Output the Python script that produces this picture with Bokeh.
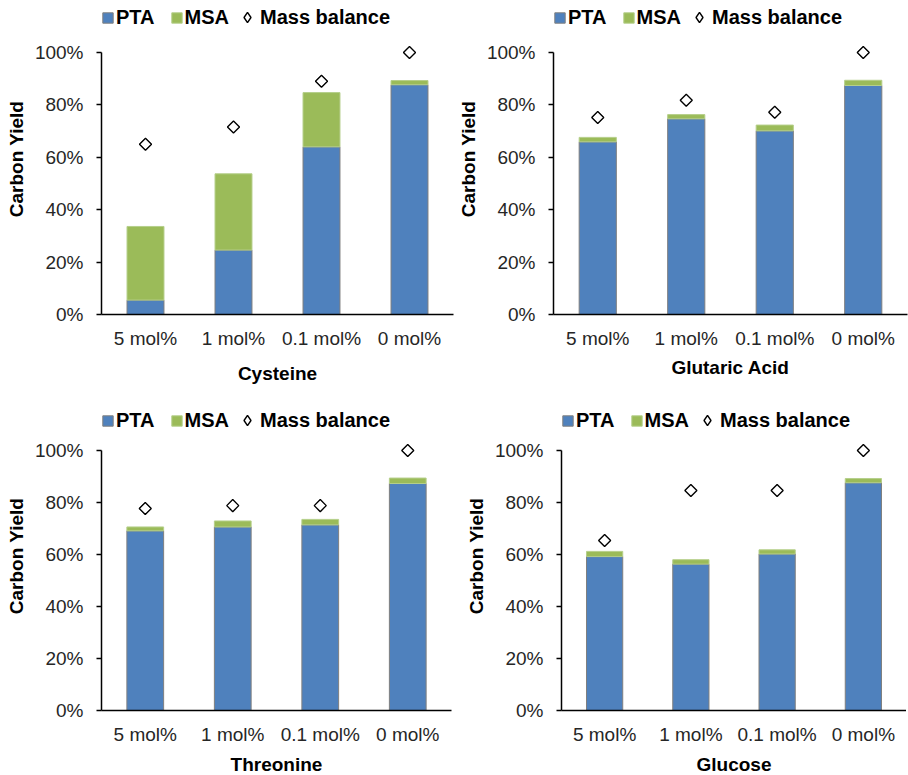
import numpy as np
from bokeh.plotting import figure
from bokeh.models import FactorRange, Range1d, FixedTicker, PrintfTickFormatter, Legend, LegendItem
from bokeh.layouts import column, row
from bokeh.embed import file_html
from bokeh.resources import INLINE

categories = ["5 mol%", "1 mol%", "0.1 mol%", "0 mol%"]
y_ticks = [0, 20, 40, 60, 80, 100]

cys_pta = [5.5, 24.6, 64.0, 87.7]
cys_msa = [28.1, 29.1, 20.7, 1.6]
cys_mb = [65.0, 71.6, 89.0, 100.0]

glu_pta = [65.9, 74.7, 70.1, 87.4]
glu_msa = [1.7, 1.6, 2.2, 2.0]
glu_mb = [75.2, 81.8, 77.2, 100.0]

thr_pta = [69.1, 70.6, 71.4, 87.3]
thr_msa = [1.5, 2.3, 2.1, 2.1]
thr_mb = [77.7, 78.8, 78.8, 100.0]

gls_pta = [59.2, 56.3, 60.2, 87.6]
gls_msa = [2.0, 1.7, 1.6, 1.6]
gls_mb = [65.4, 84.6, 84.6, 100.0]

FONT = "Liberation Sans"
PTA_COLOR = "#4F81BD"
MSA_COLOR = "#9BBB59"
GAP = 49


def panel(title, pta, msa, mb, frame_w, px100, left, right, top, bottom,
          title_standoff, leg_y):
    frame_h = px100 + GAP
    y_end = 100 + GAP * 100.0 / px100
    p = figure(x_range=FactorRange(*categories, range_padding=0),
               y_range=Range1d(0, y_end),
               frame_width=frame_w, frame_height=frame_h,
               output_backend="svg", title=None,
               toolbar_location=None, min_border_left=left,
               min_border_right=right, min_border_top=top,
               min_border_bottom=bottom)
    base = [0.0] * len(categories)
    tops = [a + b for a, b in zip(pta, msa)]
    r_pta = p.vbar(x=categories, bottom=base, top=pta, width=0.42,
                   fill_color=PTA_COLOR, line_color="#7F7F7F", line_width=1)
    r_msa = p.vbar(x=categories, bottom=pta, top=tops, width=0.42,
                   fill_color=MSA_COLOR, line_color="#B5CF8A", line_width=1)
    p.scatter(x=categories, y=mb, marker="square", angle=np.pi / 4,
              size=8.5, fill_color="white", line_color="black",
              line_width=1.4)
    # key glyph for the legend (zero-size markers on the same data)
    r_key = p.scatter(x=categories, y=mb, marker="diamond", size=0,
                      fill_color="white", line_color="black", line_width=1.4)

    common = dict(orientation="horizontal", background_fill_alpha=0,
                  border_line_alpha=0, padding=0, margin=0,
                  label_height=26, label_text_font=FONT,
                  label_text_font_size="20px", label_text_font_style="bold",
                  label_text_color="black")
    leg_a = Legend(items=[LegendItem(label="PTA", renderers=[r_pta]),
                          LegendItem(label="MSA", renderers=[r_msa])],
                   location=(0, leg_y), spacing=15, label_standoff=2,
                   glyph_width=13, glyph_height=13, **common)
    leg_b = Legend(items=[LegendItem(label="Mass balance", renderers=[r_key])],
                   location=(133, leg_y), spacing=0, label_standoff=0,
                   glyph_width=26, glyph_height=26, **common)
    p.add_layout(leg_a)
    p.add_layout(leg_b)

    p.xgrid.visible = False
    p.ygrid.visible = False
    p.outline_line_color = None

    ya = p.yaxis[0]
    ya.ticker = FixedTicker(ticks=y_ticks)
    ya.formatter = PrintfTickFormatter(format="%d%%")
    ya.bounds = (0, 100)
    ya.axis_line_color = "black"
    ya.axis_line_width = 1.5
    ya.major_tick_line_color = "black"
    ya.major_tick_line_width = 1.5
    ya.major_tick_out = 5
    ya.major_tick_in = 0
    ya.minor_tick_line_color = None
    ya.major_label_standoff = 13
    ya.major_label_text_font = FONT
    ya.major_label_text_font_size = "19px"
    ya.major_label_text_color = "#262626"
    ya.axis_label = "Carbon Yield"
    ya.axis_label_text_font = FONT
    ya.axis_label_text_font_size = "19px"
    ya.axis_label_text_font_style = "bold"
    ya.axis_label_text_color = "black"
    ya.axis_label_standoff = 5

    xa = p.xaxis[0]
    xa.axis_line_color = "black"
    xa.axis_line_width = 1.5
    xa.major_tick_line_color = None
    xa.minor_tick_line_color = None
    xa.major_tick_out = 0
    xa.major_tick_in = 0
    xa.major_label_standoff = 13
    xa.major_label_text_font = FONT
    xa.major_label_text_font_size = "19px"
    xa.major_label_text_color = "#262626"
    xa.axis_label = title
    xa.axis_label_text_font = FONT
    xa.axis_label_text_font_size = "19px"
    xa.axis_label_text_font_style = "bold"
    xa.axis_label_text_color = "black"
    xa.axis_label_standoff = title_standoff
    return p


TOP_PX = 262
BOT_PX = 260
top_leg = TOP_PX + GAP - 27
bot_leg = BOT_PX + GAP - 32

p1 = panel("Cysteine", cys_pta, cys_msa, cys_mb, 352, TOP_PX, 101, 1, 3, 74,
           11, top_leg)
p2 = panel("Glutaric Acid", glu_pta, glu_msa, glu_mb, 354, TOP_PX, 97, 1, 3, 74,
           5, top_leg)
p3 = panel("Threonine", thr_pta, thr_msa, thr_mb, 350, BOT_PX, 101, 3, 13, 63,
           6, bot_leg)
p4 = panel("Glucose", gls_pta, gls_msa, gls_mb, 345, BOT_PX, 107, 0, 13, 63,
           6, bot_leg)

layout = column(row(p1, p2), row(p3, p4))

open("out.html", "w").write(file_html(layout, INLINE))
